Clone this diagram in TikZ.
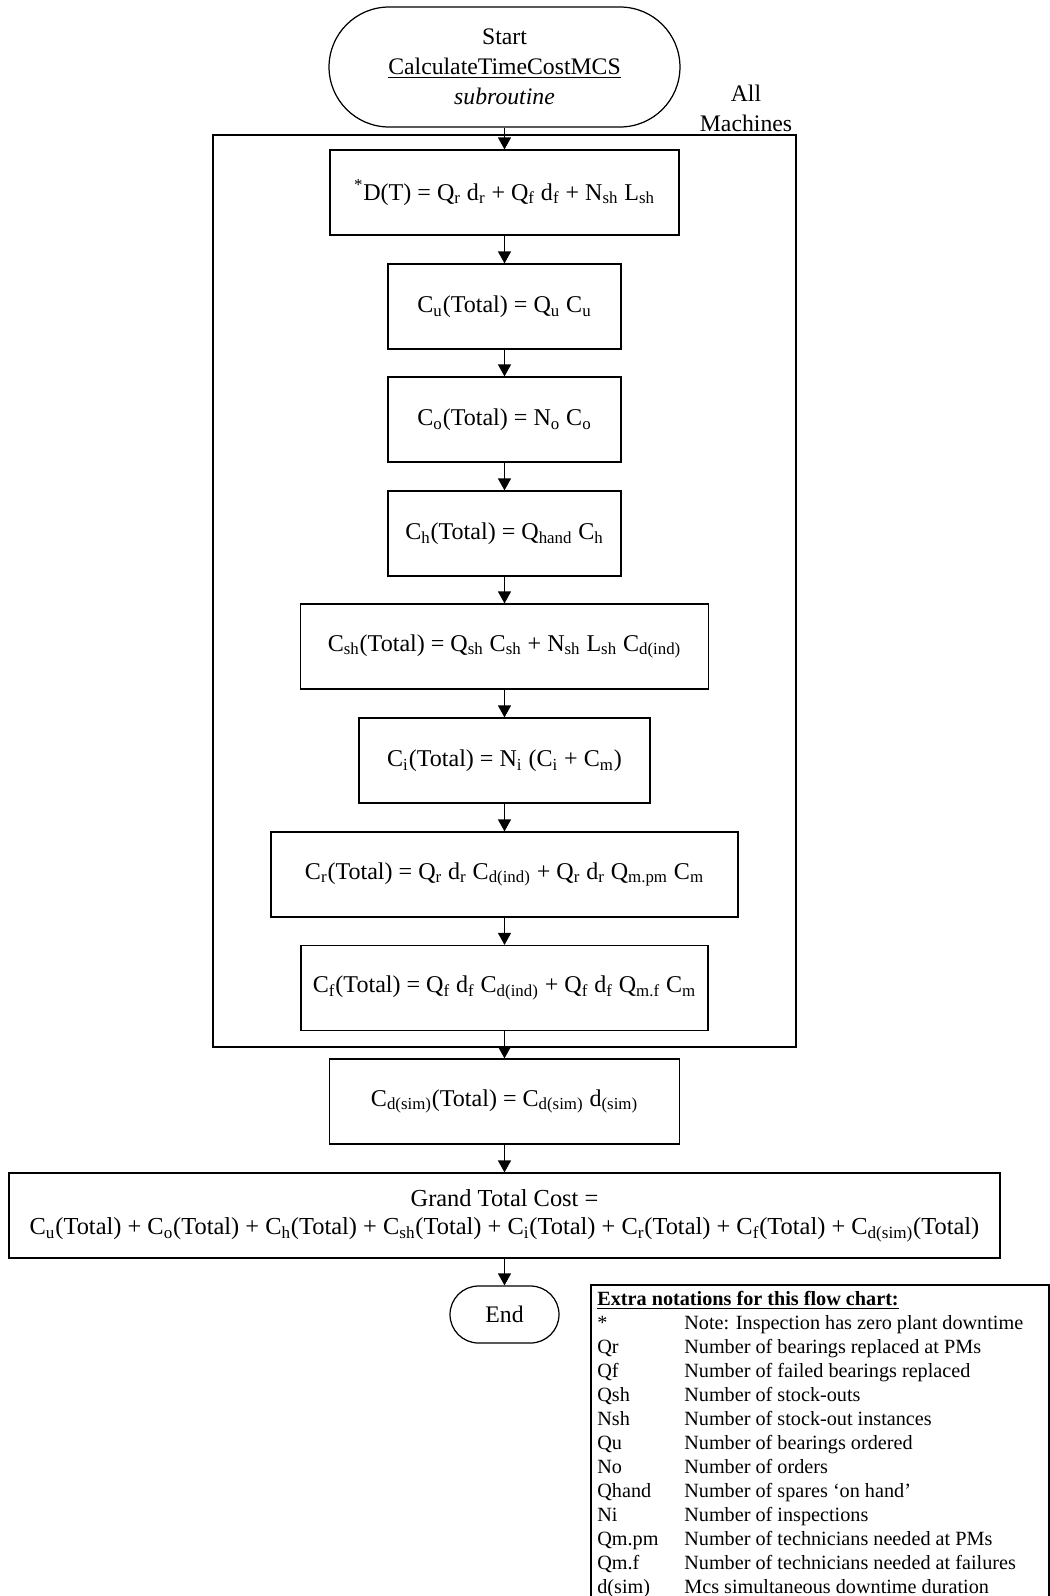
\documentclass[tikz,border=0pt]{standalone}
\usepackage{fontspec}
\setmainfont{Liberation Serif}
\usetikzlibrary{arrows.meta, positioning}
\newcommand{\lo}[1]{\textsubscript{#1}}
\tikzset{
  flow/.style      = {-{Triangle[length=0.24cm, width=0.26cm]}, line width=0.7pt, black},
  procbox/.style   = {draw, line width=0.7pt, rectangle, minimum height=1.7cm,
                      inner sep=0pt, font=\fontsize{13.7}{17}\selectfont},
  termbox/.style   = {draw, line width=0.7pt, rectangle, inner sep=0pt, align=center,
                      font=\fontsize{13.5}{17}\selectfont},
  loopbox/.style   = {draw, line width=0.7pt, rectangle, inner sep=0pt},
  looplbl/.style   = {align=center, inner sep=0pt, font=\fontsize{13.5}{17}\selectfont},
  notes/.style     = {inner sep=0pt, anchor=north west, font=\fontsize{11.5}{13.66}\selectfont},
}

\begin{document}
\begin{tikzpicture}[x=0.02cm, y=-0.02cm]
  \useasboundingbox (0,0) rectangle (1050,1596);

  % loop over all machines
  \node[loopbox, minimum width=11.66cm, minimum height=18.24cm] (machines) at (504.5,591) {};
  \node[looplbl] (machlbl) at (746,108) {All\\Machines};

  \node[termbox, minimum width=7.02cm, minimum height=2.4cm, rounded corners=1.2cm]
    (start) at (504.5,67) {Start\\\underline{CalculateTimeCostMCS}\\\textit{subroutine}};

  \node[procbox, minimum width=6.98cm] (dt)  at (504.5,192.5)
    {\textsuperscript{*}D(T) = Q\lo{r} d\lo{r} + Q\lo{f} d\lo{f} + N\lo{sh} L\lo{sh}};
  \node[procbox, minimum width=4.66cm] (cu)  at (504.5,306.5) {C\lo{u}(Total) = Q\lo{u} C\lo{u}};
  \node[procbox, minimum width=4.66cm] (co)  at (504.5,419.5) {C\lo{o}(Total) = N\lo{o} C\lo{o}};
  \node[procbox, minimum width=4.66cm] (ch)  at (504.5,533.5) {C\lo{h}(Total) = Q\lo{hand} C\lo{h}};
  \node[procbox, minimum width=8.16cm] (csh) at (504.5,646.5)
    {C\lo{sh}(Total) = Q\lo{sh} C\lo{sh} + N\lo{sh} L\lo{sh} C\lo{d(ind)}};
  \node[procbox, minimum width=5.82cm] (ci)  at (504.5,760.5) {C\lo{i}(Total) = N\lo{i} (C\lo{i} + C\lo{m})};
  \node[procbox, minimum width=9.34cm] (cr)  at (504.5,874.5)
    {C\lo{r}(Total) = Q\lo{r} d\lo{r} C\lo{d(ind)} + Q\lo{r} d\lo{r} Q\lo{m.pm} C\lo{m}};
  \node[procbox, minimum width=8.14cm] (cf)  at (504.5,988)
    {C\lo{f}(Total) = Q\lo{f} d\lo{f} C\lo{d(ind)} + Q\lo{f} d\lo{f} Q\lo{m.f} C\lo{m}};

  \node[procbox, minimum width=7.0cm] (cdsim) at (504.5,1101.5)
    {C\lo{d(sim)}(Total) = C\lo{d(sim)} d\lo{(sim)}};
  \node[procbox, minimum width=19.82cm, align=center, font=\fontsize{13.9}{16}\selectfont]
    (grand) at (504.5,1215.5)
    {Grand Total Cost =\\C\lo{u}(Total) + C\lo{o}(Total) + C\lo{h}(Total) + C\lo{sh}(Total)
     + C\lo{i}(Total) + C\lo{r}(Total) + C\lo{f}(Total) + C\lo{d(sim)}(Total)};

  \node[termbox, minimum width=2.18cm, minimum height=1.14cm, rounded corners=0.57cm]
    (end) at (504.5,1314.5) {End};

  \draw[flow] (start) -- (dt);
  \draw[flow] (dt) -- (cu);
  \draw[flow] (cu) -- (co);
  \draw[flow] (co) -- (ch);
  \draw[flow] (ch) -- (csh);
  \draw[flow] (csh) -- (ci);
  \draw[flow] (ci) -- (cr);
  \draw[flow] (cr) -- (cf);
  \draw[flow] (cf) -- (cdsim);
  \draw[flow] (cdsim) -- (grand);
  \draw[flow] (grand) -- (end);

  % notation table
  \node[notes] (legend) at (597,1288) {%
    \begin{tabular}{@{}p{49.5pt}@{}l@{}}
      \multicolumn{2}{@{}l@{}}{\textbf{\underline{Extra notations for this flow chart:}}}\\
      {*} & Note: Inspection has zero plant downtime\\
      Qr & Number of bearings replaced at PMs\\
      Qf & Number of failed bearings replaced\\
      Qsh & Number of stock-outs\\
      Nsh & Number of stock-out instances\\
      Qu & Number of bearings ordered\\
      No & Number of orders\\
      Qhand & Number of spares ‘on hand’\\
      Ni & Number of inspections\\
      Qm.pm & Number of technicians needed at PMs\\
      Qm.f & Number of technicians needed at failures\\
      d(sim) & Mcs simultaneous downtime duration
    \end{tabular}};
  \draw[line width=0.7pt] (591,1596) -- (591,1285) -- (1049,1285) -- (1049,1596);
\end{tikzpicture}
\end{document}
